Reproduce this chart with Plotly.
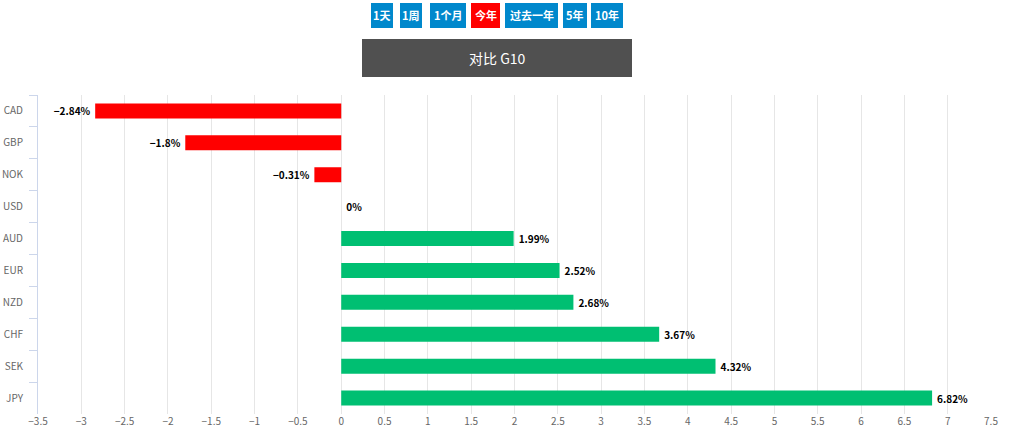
import plotly.graph_objects as go

currencies = ["CAD", "GBP", "NOK", "USD", "AUD", "EUR", "NZD", "CHF", "SEK", "JPY"]
changes = [-2.84, -1.8, -0.31, 0, 1.99, 2.52, 2.68, 3.67, 4.32, 6.82]
x_ticks = [-3.5, -3, -2.5, -2, -1.5, -1, -0.5, 0, 0.5, 1, 1.5, 2, 2.5, 3, 3.5, 4, 4.5, 5, 5.5, 6, 6.5, 7, 7.5]
buttons = ["1天", "1周", "1个月", "今年", "过去一年", "5年", "10年"]
active_button = "今年"
title_text = "对比 G10"

W, H = 1018, 445
L, R, T, B = 38, 27, 95, 31
PW, PH = W - L - R, H - T - B

def px(x):
    return (x - L) / PW

def py(y):
    return (H - B - y) / PH

def fmt(v):
    s = ("%g" % v).replace("-", "\u2212") + "%"
    return (s + "\u2009") if v < 0 else ("\u2009" + s)

colors = ["#ff0000" if v < 0 else "#00bf72" for v in changes]

fig = go.Figure()
fig.add_trace(go.Bar(
    x=changes, y=currencies, orientation="h",
    marker=dict(color=colors, line=dict(width=0)),
    text=[fmt(v) for v in changes], textposition="outside",
    textfont=dict(size=10, color="#000000", family="Noto Sans CJK SC", weight="bold"),
    cliponaxis=False, constraintext="none", hoverinfo="skip",
))

fig.update_layout(
    width=W, height=H,
    margin=dict(l=L, r=R, t=T, b=B, autoexpand=False),
    plot_bgcolor="white", paper_bgcolor="white",
    bargap=0.53, showlegend=False,
    font=dict(family="Noto Sans CJK SC", color="#666666", size=10),
)
fig.update_xaxes(
    range=[-3.5, 7.5], tickvals=x_ticks, showgrid=True, gridcolor="#e6e6e6",
    gridwidth=1, zeroline=False, showline=False, ticks="",
    tickfont=dict(size=10, color="#666666"),
)
fig.update_yaxes(
    categoryorder="array", categoryarray=currencies, autorange="reversed",
    showgrid=False, showline=True, linecolor="#ccd6eb", linewidth=1,
    ticks="outside", tickson="boundaries", ticklen=8, tickcolor="#ccd6eb",
    tickfont=dict(size=10, color="#666666"), ticklabelstandoff=12,
)

# button row
btn_pos = [(371, 393), (400, 422), (430, 466), (471, 500), (505, 558), (563, 587), (591, 623)]
for label, (x0, x1) in zip(buttons, btn_pos):
    col = "#ff0000" if label == active_button else "#0088cc"
    fig.add_shape(type="rect", xref="paper", yref="paper",
                  x0=px(x0), x1=px(x1), y0=py(28), y1=py(3),
                  fillcolor=col, line=dict(width=0), layer="above")
    fig.add_annotation(xref="paper", yref="paper", x=px((x0 + x1) / 2), y=py(15.5),
                       text="<b>%s</b>" % label, showarrow=False,
                       font=dict(size=11, color="white", family="Noto Sans CJK SC"),
                       xanchor="center", yanchor="middle")

# title box
fig.add_shape(type="rect", xref="paper", yref="paper",
              x0=px(362), x1=px(632), y0=py(77), y1=py(39),
              fillcolor="#505050", line=dict(width=0), layer="above")
fig.add_annotation(xref="paper", yref="paper", x=px(497), y=py(58),
                   text=title_text, showarrow=False,
                   font=dict(size=14, color="white", family="Noto Sans CJK SC"),
                   xanchor="center", yanchor="middle")

fig.write_html("out.html", config={"displayModeBar": False},
               post_script="document.body.style.margin='0';")
